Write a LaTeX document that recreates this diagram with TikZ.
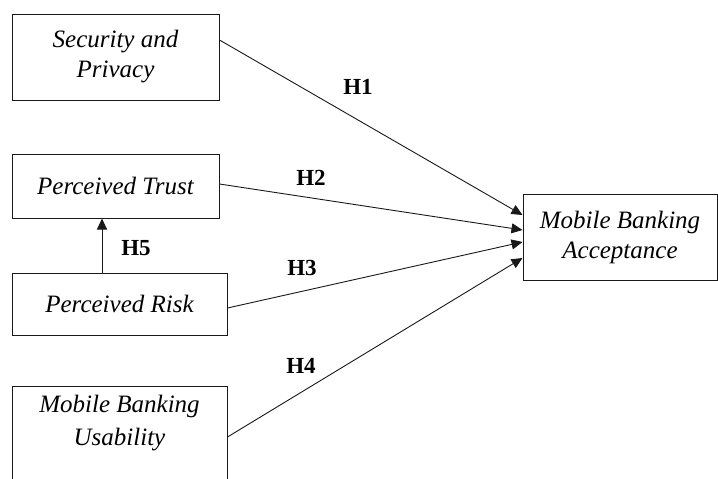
\documentclass[tikz,border=0pt]{standalone}
\usepackage{fontspec}
\setmainfont{Liberation Serif}
\usetikzlibrary{arrows.meta}
\begin{document}
\begin{tikzpicture}[x=1pt,y=-1pt,
  box/.style={draw=black!90, line width=1pt, inner sep=0pt, align=center,
    font=\fontsize{25}{30}\selectfont\itshape},
  hlab/.style={font=\fontsize{23}{24}\selectfont\bfseries, inner sep=0pt},
  link/.style={draw=black!90, line width=0.9pt, -{Triangle[length=11pt,width=10pt]}}]
\useasboundingbox (0,0) rectangle (718,479);
\fill[white] (0,0) rectangle (718,479);
\node[box, minimum width=207pt, minimum height=86pt] (sec) at (115.5,57) {Security and\\Privacy};
\node[box, minimum width=207pt, minimum height=64pt] (trust) at (115.5,186) {Perceived Trust};
\node[box, minimum width=215pt, minimum height=62pt] (risk) at (119.5,304) {Perceived Risk};
\node[box, minimum width=215pt, minimum height=116pt] (use) at (119.5,444) {};
\node[font=\fontsize{25}{33}\selectfont\itshape, align=center, inner sep=0pt] (usetxt) at (119.5,423) {Mobile Banking\\Usability};
\node[box, minimum width=194pt, minimum height=86pt] (acc) at (620,237) {Mobile Banking\\Acceptance};
\draw[link] ([yshift=17pt]sec.east) -- ([yshift=22pt]acc.west);
\draw[link] ([yshift=2pt]trust.east) -- ([yshift=7pt]acc.west);
\draw[link] ([yshift=-4pt]risk.east) -- ([yshift=-5pt]acc.west);
\draw[link] ([yshift=7pt]use.east) -- ([yshift=-21pt]acc.west);
\draw[link] (risk.north -| 102,0) -- (trust.south -| 102,0);
\node[hlab] (h1) at (358,87) {H1};
\node[hlab] (h2) at (311,178) {H2};
\node[hlab] (h3) at (302,268) {H3};
\node[hlab] (h4) at (301,366) {H4};
\node[hlab] (h5) at (136,248) {H5};
\end{tikzpicture}
\end{document}
